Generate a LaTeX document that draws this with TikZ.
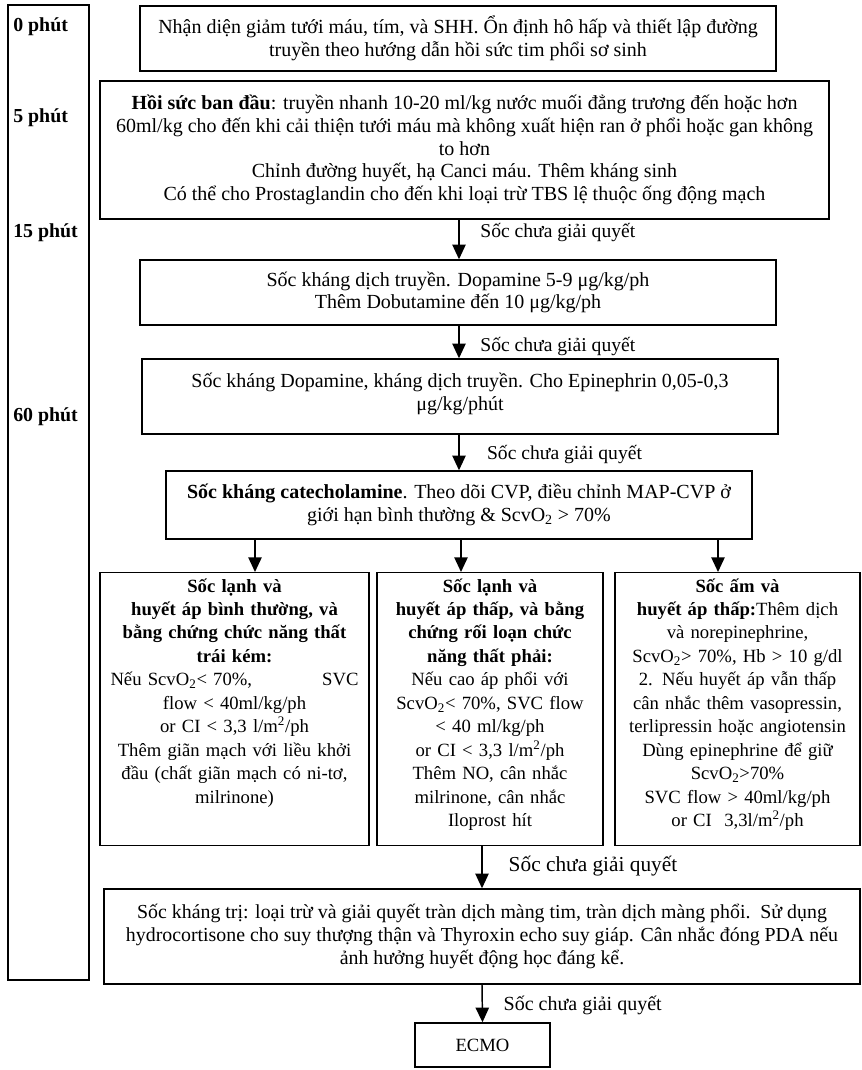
\documentclass[tikz,border=0pt]{standalone}
\usepackage{fontspec}
\setmainfont{Liberation Serif}
\usepackage{tikz}
\usetikzlibrary{arrows.meta,positioning}

\begin{document}
\begin{tikzpicture}[x=0.75pt, y=-0.75pt,
    box/.style={draw, line width=1.1pt, align=center, inner xsep=2pt, inner ysep=3pt,
        font=\fontsize{15pt}{17pt}\selectfont},
    tallbox/.style={box, anchor=north, inner xsep=1pt, minimum height=204.75pt, text depth=186pt,
        font=\fontsize{14pt}{17.6pt}\selectfont},
    arr/.style={line width=1.1pt, -{Triangle[width=10pt,length=11pt]}},
    lbl/.style={anchor=west, inner sep=0pt, xshift=15.5pt, font=\fontsize{14.7pt}{17pt}\selectfont},
    tlabel/.style={anchor=west, inner sep=0pt, font=\fontsize{14.9pt}{17pt}\selectfont\bfseries}]

    \useasboundingbox (0,0) rectangle (862,1070);

    % Time line on the left
    \node[draw, line width=1.1pt, minimum width=60.75pt, minimum height=731.25pt, inner sep=0pt] (timeline) at (48.5,492.5) {};
    \foreach \t/\y in {0/27,5/118,15/233,60/417} {
        \node[tlabel] (t\t) at (13,\y) {\t\ phút};
    }

    % Main steps
    \node[box, minimum width=477pt, minimum height=48.75pt] (recog) at (458,38.5)
        {Nhận diện giảm tưới máu, tím, và SHH. Ổn định hô hấp và thiết lập đường\\
         truyền theo hướng dẫn hồi sức tim phổi sơ sinh};
    \node[box, minimum width=546.75pt, minimum height=103.5pt] (resus) at (464.5,150)
        {\textbf{Hồi sức ban đầu}: truyền nhanh 10-20 ml/kg nước muối đẳng trương đến hoặc hơn\\
         60ml/kg cho đến khi cải thiện tưới máu mà không xuất hiện ran ở phổi hoặc gan không\\
         to hơn\\
         Chỉnh đường huyết, hạ Canci máu. Thêm kháng sinh\\
         Có thể cho Prostaglandin cho đến khi loại trừ TBS lệ thuộc ống động mạch};
    \node[box, minimum width=477pt, minimum height=48.75pt] (fluid) at (458,292.5)
        {Sốc kháng dịch truyền. Dopamine 5-9 μg/kg/ph\\
         Thêm Dobutamine đến 10 μg/kg/ph};
    \node[box, minimum width=477pt, minimum height=56.25pt, text depth=7pt] (dopa) at (460,396.5)
        {Sốc kháng Dopamine, kháng dịch truyền. Cho Epinephrin 0,05-0,3\\
         μg/kg/phút};
    \node[box, minimum width=439.5pt, minimum height=51pt] (catechol) at (459,505)
        {\textbf{Sốc kháng catecholamine}. Theo dõi CVP, điều chỉnh MAP-CVP ở\\
         giới hạn bình thường \& ScvO\textsubscript{2} > 70\%};

    % Three branches
    \node[tallbox, minimum width=201.75pt, text width=199.75pt] (coldA) at (234.5,572)
        {\textbf{Sốc lạnh và}\\
         \textbf{huyết áp bình thường, và}\\
         \textbf{bằng chứng chức năng thất}\\
         \textbf{trái kém:}\\
         \makebox[186pt]{Nếu ScvO\textsubscript{2}< 70\%,\hfill SVC}\\
         flow < 40ml/kg/ph\\
         or CI < 3,3 l/m\textsuperscript{2}/ph\\
         Thêm giãn mạch với liều khởi\\
         đầu (chất giãn mạch có ni-tơ,\\
         milrinone)};
    \node[tallbox, minimum width=169.5pt, text width=167.5pt] (coldB) at (490,572)
        {\textbf{Sốc lạnh và}\\
         \textbf{huyết áp thấp, và bằng}\\
         \textbf{chứng rối loạn chức}\\
         \textbf{năng thất phải:}\\
         Nếu cao áp phổi với\\
         ScvO\textsubscript{2}< 70\%, SVC flow\\
         < 40 ml/kg/ph\\
         or CI < 3,3 l/m\textsuperscript{2}/ph\\
         Thêm NO, cân nhắc\\
         milrinone, cân nhắc\\
         Iloprost hít};
    \node[tallbox, minimum width=183.75pt, text width=181.75pt] (warm) at (737.5,572)
        {\textbf{Sốc ấm và}\\
         \textbf{huyết áp thấp:}Thêm dịch\\
         và norepinephrine,\\
         ScvO\textsubscript{2}> 70\%, Hb > 10 g/dl\\
         2. Nếu huyết áp vẫn thấp\\
         cân nhắc thêm vasopressin,\\
         terlipressin hoặc angiotensin\\
         Dùng epinephrine để giữ\\
         ScvO\textsubscript{2}>70\%\\
         SVC flow > 40ml/kg/ph\\
         or CI\ \ 3,3l/m\textsuperscript{2}/ph};

    % Last steps
    \node[box, minimum width=567pt, minimum height=71.25pt, font=\fontsize{14.9pt}{17.25pt}\selectfont] (refr) at (482,936.5)
        {Sốc kháng trị: loại trừ và giải quyết tràn dịch màng tim, tràn dịch màng phổi.\ \ Sử dụng\\
         hydrocortisone cho suy thượng thận và Thyroxin echo suy giáp. Cân nhắc đóng PDA nếu\\
         ảnh hưởng huyết động học đáng kể.};
    \node[box, minimum width=101.25pt, minimum height=33pt, font=\fontsize{14pt}{17pt}\selectfont] (ecmo) at (482.5,1045) {ECMO};

    % Arrows
    \coordinate (lane) at (459,0);
    \draw[arr] (resus.south -| lane) -- node[lbl, pos=.32] {Sốc chưa giải quyết} (fluid.north -| lane);
    \draw[arr] (fluid.south -| lane) -- node[lbl, pos=.65] {Sốc chưa giải quyết} (dopa.north -| lane);
    \draw[arr] (dopa.south -| lane) -- node[lbl, pos=.57, xshift=5pt] {Sốc chưa giải quyết} (catechol.north -| lane);

    \coordinate (laneA) at (255,0);
    \coordinate (laneB) at (461,0);
    \coordinate (laneC) at (718,0);
    \foreach \l/\b in {laneA/coldA,laneB/coldB,laneC/warm} {
        \draw[arr] (catechol.south -| \l) -- (\b.north -| \l);
    }

    \draw[arr] (coldB.south -| refr.north) -- node[lbl, pos=.48, xshift=4pt, font=\fontsize{16pt}{18pt}\selectfont] {Sốc chưa giải quyết} (refr.north);
    \draw[arr] (refr.south) -- node[lbl, pos=.54, font=\fontsize{15pt}{17pt}\selectfont] {Sốc chưa giải quyết} (ecmo.north);

\end{tikzpicture}
\end{document}
